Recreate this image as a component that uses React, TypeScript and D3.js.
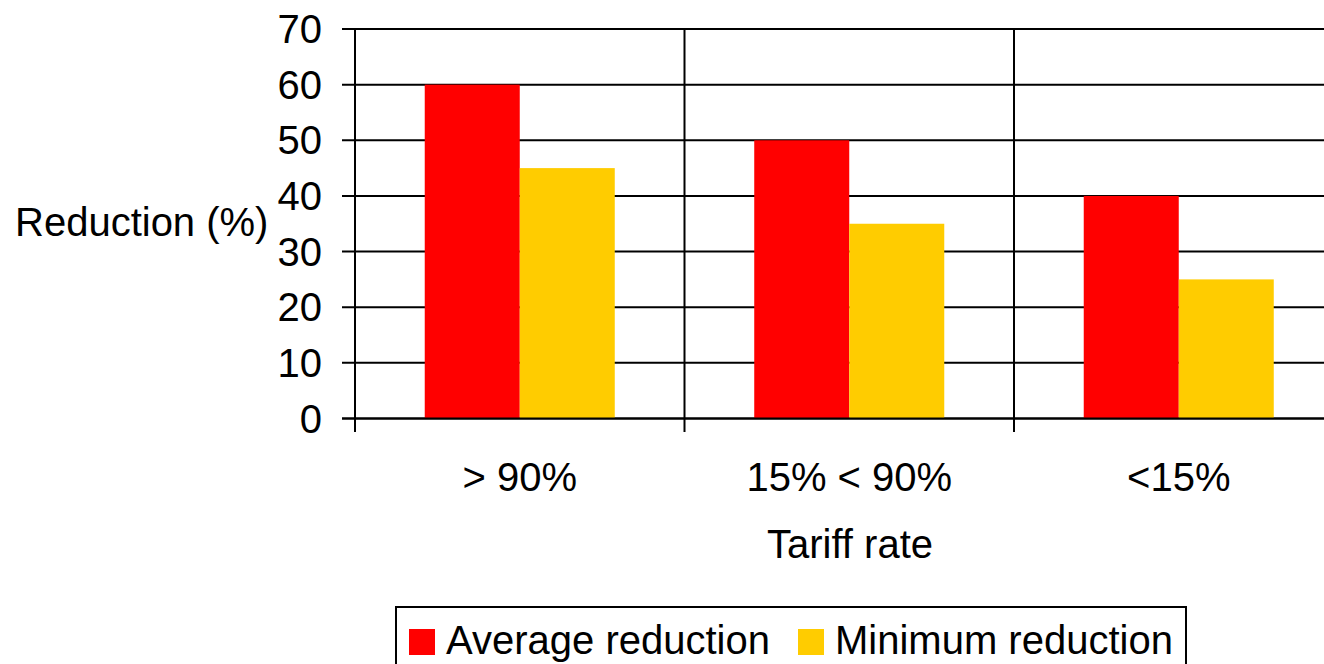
import React, { useRef, useEffect } from 'react';
import * as d3 from 'd3';

// data
const categories = ['> 90%', '15% < 90%', '<15%'];
const seriesNames = ['Average reduction', 'Minimum reduction'];
const averageReduction = [60, 50, 40];
const minimumReduction = [45, 35, 25];
const yTicks = [0, 10, 20, 30, 40, 50, 60, 70];

const colors = ['#FF0000', '#FFCC00'];

const width = 1324;
const height = 664;
const font = 'Arial, "Liberation Sans", sans-serif';
const fontSize = '40px';

const App = () => {
    const svgRef = useRef<SVGSVGElement>(null);

    useEffect(() => {
        const svg = d3.select(svgRef.current);
        svg.selectAll('*').remove();

        const left = 355;
        const top = 29;
        const bottom = 418.5;
        const catStep = 329.5;

        const x0 = d3.scaleBand<string>()
            .domain(categories)
            .range([left, left + catStep * categories.length])
            .padding(0);

        const x1 = d3.scaleBand<string>()
            .domain(seriesNames)
            .range([0, x0.bandwidth()])
            .paddingInner(0)
            .paddingOuter(0.734);

        const y = d3.scaleLinear().domain([0, 70]).range([bottom, top]);

        // gridlines + tick marks
        svg.append('g')
            .selectAll('line')
            .data(yTicks)
            .enter()
            .append('line')
            .attr('x1', left - 13)
            .attr('x2', width)
            .attr('y1', d => y(d))
            .attr('y2', d => y(d))
            .attr('stroke', '#000')
            .attr('stroke-width', 2);

        // tick labels
        svg.append('g')
            .selectAll('text')
            .data(yTicks)
            .enter()
            .append('text')
            .attr('x', 322)
            .attr('y', d => y(d) + 14)
            .attr('text-anchor', 'end')
            .style('font-family', font)
            .style('font-size', fontSize)
            .text(d => d);

        // bars
        const rows = categories.map((c, i) => ({ cat: c, values: [averageReduction[i], minimumReduction[i]] }));
        const groups = svg.append('g')
            .selectAll('g')
            .data(rows)
            .enter()
            .append('g')
            .attr('transform', d => `translate(${x0(d.cat)},0)`);

        groups.selectAll('rect')
            .data(d => d.values.map((v, j) => ({ name: seriesNames[j], value: v, color: colors[j] })))
            .enter()
            .append('rect')
            .attr('x', d => x1(d.name)!)
            .attr('width', x1.bandwidth())
            .attr('y', d => y(d.value))
            .attr('height', d => y(0) - y(d.value))
            .attr('fill', d => d.color);

        // baseline redrawn over bars
        svg.append('line')
            .attr('x1', left - 13)
            .attr('x2', width)
            .attr('y1', y(0))
            .attr('y2', y(0))
            .attr('stroke', '#000')
            .attr('stroke-width', 2);

        // y axis + category separators
        const seps = [0, 1, 2].map(i => left + catStep * i);
        svg.append('g')
            .selectAll('line')
            .data(seps)
            .enter()
            .append('line')
            .attr('x1', d => d)
            .attr('x2', d => d)
            .attr('y1', top)
            .attr('y2', 432)
            .attr('stroke', '#000')
            .attr('stroke-width', 2);

        // category labels
        svg.append('g')
            .selectAll('text')
            .data(categories)
            .enter()
            .append('text')
            .attr('x', d => x0(d)! + x0.bandwidth() / 2)
            .attr('y', 491)
            .attr('text-anchor', 'middle')
            .style('font-family', font)
            .style('font-size', fontSize)
            .text(d => d);

        // axis titles
        svg.append('text')
            .attr('x', 850)
            .attr('y', 558)
            .attr('text-anchor', 'middle')
            .style('font-family', font)
            .style('font-size', fontSize)
            .text('Tariff rate');

        svg.append('text')
            .attr('x', 15)
            .attr('y', 236)
            .style('font-family', font)
            .style('font-size', fontSize)
            .text('Reduction (%)');

        // legend
        const legend = svg.append('g');
        legend.append('rect')
            .attr('x', 396)
            .attr('y', 607)
            .attr('width', 790)
            .attr('height', 80)
            .attr('fill', '#fff')
            .attr('stroke', '#000')
            .attr('stroke-width', 2);

        const legendX = [409, 798];
        seriesNames.forEach((name, i) => {
            legend.append('rect')
                .attr('x', legendX[i])
                .attr('y', 629)
                .attr('width', 26)
                .attr('height', 26)
                .attr('fill', colors[i]);
            legend.append('text')
                .attr('x', legendX[i] + 37)
                .attr('y', 654)
                .style('font-family', font)
                .style('font-size', fontSize)
                .text(name);
        });
    }, []);

    return (
        <div style={{ position: 'absolute', left: 0, top: 0, width, height, background: '#fff' }}>
            <svg ref={svgRef} width={width} height={height} style={{ display: 'block' }}></svg>
        </div>
    );
};

export default App;
